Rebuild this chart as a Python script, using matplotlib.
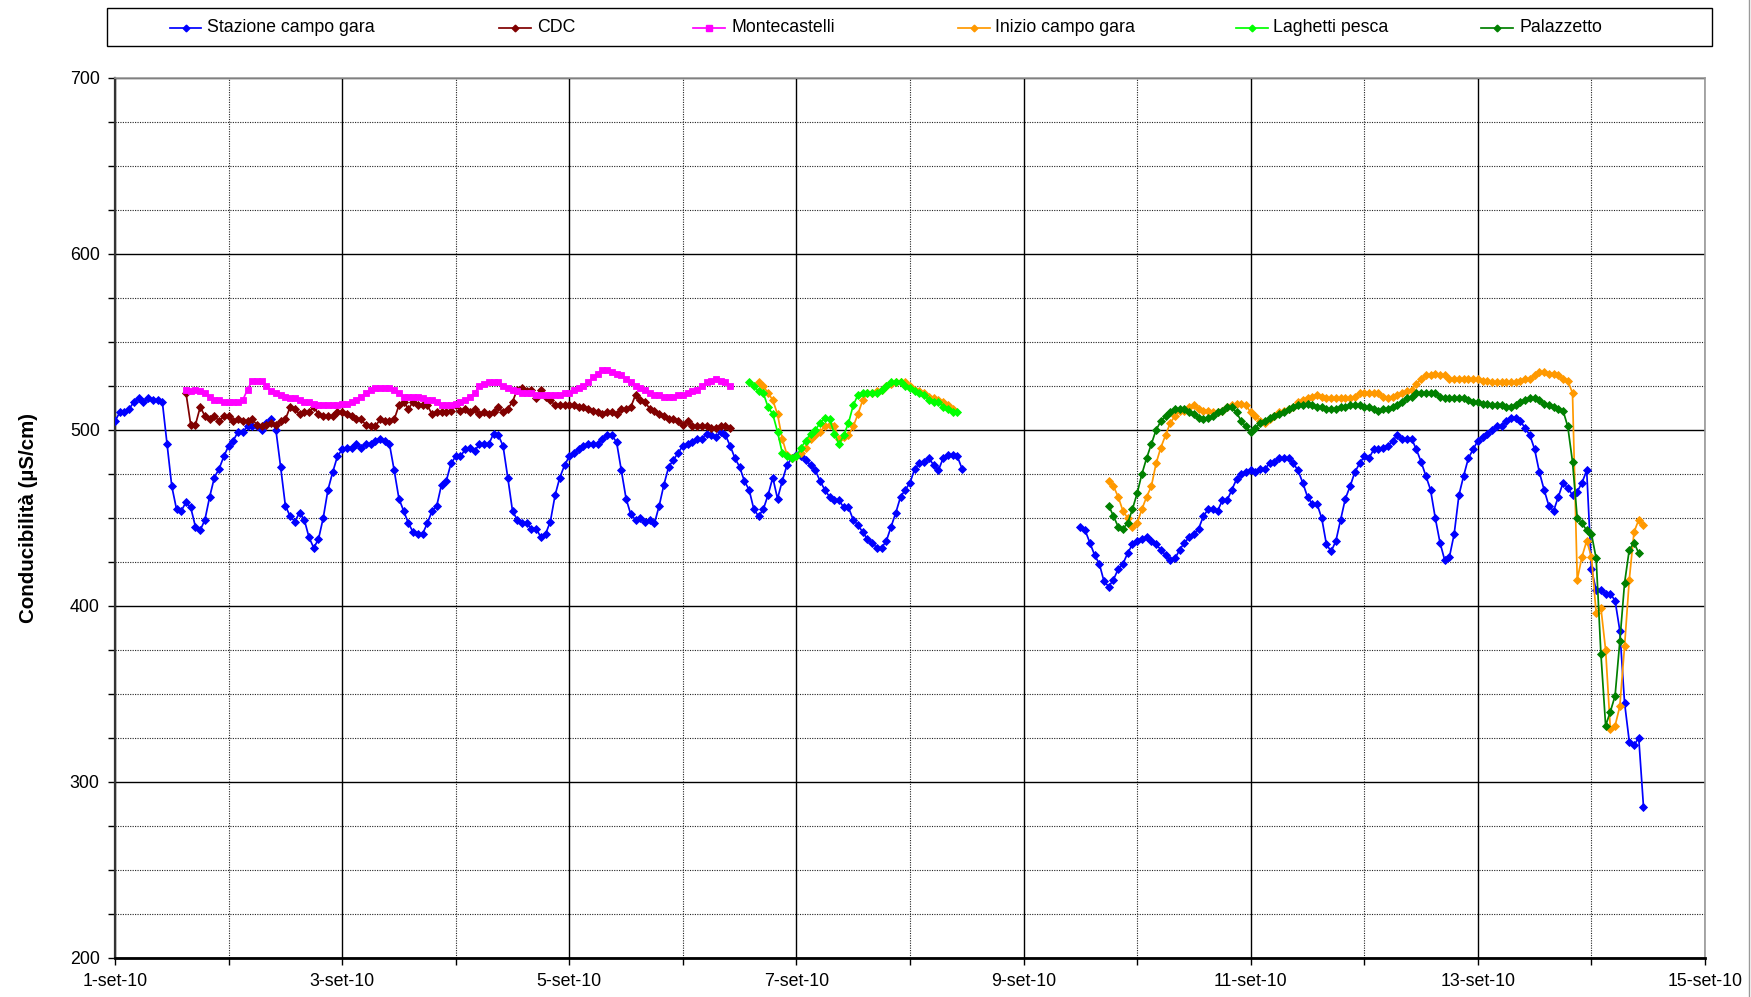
import numpy as np
import matplotlib
matplotlib.use('Agg')
import matplotlib.pyplot as plt
from matplotlib import font_manager
from matplotlib.lines import Line2D
from matplotlib.patches import Rectangle
from matplotlib.ticker import FixedLocator, MultipleLocator

# narrow face gives the tall, tight lettering of the original chart; plain Arial-like face otherwise
_installed = {f.name for f in font_manager.fontManager.ttflist}
if 'Liberation Sans Narrow' in _installed:
    plt.rcParams['font.family'] = ['Liberation Sans Narrow', 'Liberation Sans', 'DejaVu Sans']
    FS = 15.0
else:
    plt.rcParams['font.family'] = ['Liberation Sans', 'DejaVu Sans']
    FS = 12.8

# ------------------------------------------------------------------------------------------------------------------- #
# hourly conductivity readings (uS/cm); *_start = first hour counted from 1-set-10 00:00

stazione_1_start = 0
stazione_1 = [505, 510, 510, 512, 516, 518, 516, 518, 517, 517,
              516, 492, 468, 455, 454, 459, 456, 445, 443, 449,
              462, 473, 478, 485, 491, 494, 499, 499, 502, 502,
              502, 500, 504, 506, 500, 479, 457, 451, 448, 453,
              449, 439, 433, 438, 450, 466, 476, 485, 489, 490,
              490, 492, 490, 492, 492, 494, 495, 494, 492, 477,
              461, 454, 447, 442, 441, 441, 447, 454, 457, 469,
              471, 481, 485, 485, 489, 490, 488, 492, 492, 492,
              498, 497, 491, 473, 454, 449, 447, 447, 444, 444,
              439, 441, 448, 463, 473, 480, 485, 487, 489, 491,
              492, 492, 492, 495, 497, 497, 493, 477, 461, 452,
              449, 450, 448, 449, 447, 457, 469, 479, 483, 487,
              491, 492, 493, 495, 495, 498, 497, 496, 499, 497,
              491, 484, 479, 471, 466, 455, 451, 455, 463, 473,
              461, 471, 480, 484, 486, 485, 483, 480, 477, 471,
              466, 462, 460, 460, 456, 456, 449, 446, 442, 438,
              436, 433, 433, 437, 445, 453, 462, 466, 470, 478,
              481, 482, 484, 480, 477, 484, 486, 486, 485, 478]

stazione_2_start = 204
stazione_2 = [445, 443, 436, 429, 424, 414, 411, 415, 421, 424,
              430, 435, 437, 438, 439, 437, 435, 432, 429, 426,
              427, 432, 436, 439, 441, 444, 451, 455, 455, 454,
              460, 460, 466, 472, 475, 476, 477, 476, 478, 478,
              481, 482, 484, 484, 484, 481, 477, 470, 462, 458,
              458, 450, 435, 431, 437, 449, 461, 468, 476, 481,
              485, 484, 489, 489, 490, 491, 494, 497, 495, 495,
              495, 489, 482, 474, 466, 450, 436, 426, 428, 441,
              463, 474, 484, 489, 494, 496, 498, 500, 502, 502,
              505, 507, 507, 505, 501, 497, 489, 476, 466, 457,
              454, 462, 470, 467, 463, 465, 470, 477, 421, 409,
              409, 407, 407, 403, 386, 345, 323, 321, 325, 286]

cdc_start = 15
cdc = [521, 503, 503, 513, 508, 506, 508, 505, 508, 508,
       505, 506, 505, 505, 506, 503, 502, 503, 504, 503,
       505, 506, 513, 512, 509, 510, 510, 513, 509, 508,
       508, 508, 510, 510, 509, 508, 506, 506, 503, 502,
       502, 506, 505, 505, 506, 514, 516, 512, 516, 514,
       514, 514, 509, 510, 510, 510, 511, 514, 511, 512,
       510, 512, 509, 510, 509, 510, 513, 510, 512, 516,
       523, 524, 522, 523, 518, 523, 519, 517, 514, 514,
       514, 514, 514, 513, 513, 512, 511, 510, 509, 510,
       510, 509, 512, 512, 513, 520, 517, 516, 512, 511,
       509, 508, 506, 506, 505, 503, 505, 502, 502, 502,
       502, 501, 501, 502, 502, 501]

montecastelli_start = 15
montecastelli = [523, 522, 523, 522, 521, 519, 517, 517, 516, 516,
                 516, 516, 517, 523, 528, 528, 528, 525, 522, 521,
                 520, 519, 518, 518, 517, 516, 516, 515, 514, 514,
                 514, 514, 514, 515, 515, 516, 517, 519, 521, 523,
                 524, 524, 524, 524, 523, 521, 519, 519, 519, 519,
                 518, 517, 517, 516, 514, 514, 514, 515, 516, 517,
                 519, 521, 525, 526, 527, 527, 527, 525, 524, 523,
                 522, 521, 521, 521, 520, 520, 520, 520, 520, 520,
                 521, 521, 523, 524, 525, 527, 530, 532, 534, 534,
                 533, 532, 531, 529, 527, 525, 524, 523, 521, 520,
                 520, 519, 519, 519, 520, 520, 521, 522, 523, 525,
                 527, 528, 529, 528, 527, 525]

inizio_1_start = 136
inizio_1 = [527, 525, 521, 517, 509, 495, 486, 484, 485, 487,
            490, 495, 497, 499, 502, 503, 502, 495, 496, 497,
            502, 509, 517, 521, 521, 522, 523, 525, 526, 527,
            527, 527, 525, 523, 522, 521, 519, 518, 517, 516,
            514, 512]

inizio_2_start = 210
inizio_2 = [471, 468, 462, 454, 450, 445, 447, 455, 462, 468,
            481, 490, 497, 504, 508, 511, 511, 513, 514, 512,
            511, 511, 510, 510, 511, 513, 514, 515, 515, 514,
            510, 508, 505, 504, 506, 508, 510, 511, 512, 513,
            516, 517, 518, 519, 520, 519, 518, 518, 518, 518,
            518, 518, 519, 521, 521, 521, 521, 521, 519, 518,
            519, 520, 521, 522, 523, 526, 529, 531, 531, 532,
            531, 531, 529, 529, 529, 529, 529, 529, 529, 528,
            528, 527, 527, 527, 527, 527, 527, 528, 529, 529,
            531, 533, 533, 532, 532, 531, 529, 528, 521, 415,
            428, 437, 428, 396, 399, 375, 330, 332, 343, 377,
            415, 442, 449, 446]

laghetti_start = 134
laghetti = [527, 525, 522, 521, 513, 509, 499, 487, 485, 484,
            485, 490, 494, 498, 500, 504, 507, 506, 498, 492,
            497, 504, 514, 520, 521, 521, 521, 521, 523, 525,
            527, 527, 527, 525, 524, 522, 521, 520, 517, 516,
            516, 513, 512, 510, 510]

palazzetto_start = 210
palazzetto = [457, 451, 445, 444, 447, 455, 464, 475, 484, 492,
              500, 505, 508, 510, 512, 512, 512, 510, 509, 507,
              506, 507, 508, 510, 511, 513, 513, 510, 505, 502,
              499, 501, 504, 505, 507, 508, 509, 510, 512, 513,
              514, 514, 515, 514, 513, 513, 512, 512, 512, 513,
              513, 514, 514, 514, 513, 513, 512, 511, 512, 512,
              513, 514, 516, 518, 519, 521, 521, 521, 521, 521,
              519, 518, 518, 518, 518, 518, 517, 516, 516, 515,
              515, 514, 514, 514, 513, 513, 514, 516, 517, 518,
              518, 517, 515, 514, 513, 512, 511, 502, 482, 450,
              447, 443, 441, 427, 373, 332, 340, 349, 380, 413,
              432, 436, 430]

day_ticks = [1, 3, 5, 7, 9, 11, 13, 15]
day_labels = ['1-set-10', '3-set-10', '5-set-10', '7-set-10', '9-set-10', '11-set-10', '13-set-10', '15-set-10']

# ------------------------------------------------------------------------------------------------------------------- #


def to_days(start, values):
    return 1 + (start + np.arange(len(values))) / 24.0


series = [
    ('Stazione campo gara', '#0000FF', 'D', 4.0, [(stazione_1_start, stazione_1), (stazione_2_start, stazione_2)]),
    ('CDC', '#800000', 'D', 4.0, [(cdc_start, cdc)]),
    ('Montecastelli', '#FF00FF', 's', 4.8, [(montecastelli_start, montecastelli)]),
    ('Inizio campo gara', '#FF9900', 'D', 4.0, [(inizio_1_start, inizio_1), (inizio_2_start, inizio_2)]),
    ('Laghetti pesca', '#00FF00', 'D', 4.0, [(laghetti_start, laghetti)]),
    ('Palazzetto', '#008000', 'D', 4.0, [(palazzetto_start, palazzetto)]),
]

fig = plt.figure(figsize=(17.51, 9.97), dpi=100)
ax = fig.add_axes([0.06568, 0.03912, 0.90805, 0.88265])

for k, (name, col, mk, ms, parts) in enumerate(series):
    for start, vals in parts:
        ax.plot(to_days(start, vals), vals, color=col, marker=mk, markersize=ms, markeredgewidth=0.6,
                linewidth=1.25, zorder=3 + k)

ax.set_xlim(1, 15)
ax.set_ylim(200, 700)
ax.xaxis.set_major_locator(FixedLocator(day_ticks))
ax.xaxis.set_minor_locator(MultipleLocator(1))
ax.set_xticklabels(day_labels)
ax.yaxis.set_major_locator(MultipleLocator(100))
ax.yaxis.set_minor_locator(MultipleLocator(25))

ax.grid(which='major', color='black', linestyle='-', linewidth=1.0)
ax.grid(which='minor', color='#222222', linestyle=(0, (1, 1.2)), linewidth=0.8)

ax.tick_params(which='both', direction='out', length=5, width=1.0, labelsize=FS, pad=6)
for side in ['top', 'right']:
    ax.spines[side].set_color('#9a9a9a')
    ax.spines[side].set_linewidth(1.2)
ax.spines['left'].set_color('#333333')
ax.spines['left'].set_linewidth(1.6)
ax.spines['bottom'].set_color('black')
ax.spines['bottom'].set_linewidth(2.0)

fig.text(28 / 1751, 1 - 518 / 997, 'Conducibilità (µS/cm)', rotation=90, ha='center', va='center',
         fontsize=FS + 2.0, fontweight='bold')

# legend box across the top
W, H = 1751.0, 997.0
fig.add_artist(Rectangle((107 / W, 1 - 46 / H), (1712 - 107) / W, 38 / H, transform=fig.transFigure,
                         facecolor='white', edgecolor='black', linewidth=1.0))
legend_x = [(170, 201, 207), (499, 531, 537), (693, 725, 731), (958, 990, 995), (1236, 1268, 1273), (1481, 1513, 1519)]
ly = 1 - 28 / H
for (name, col, mk, ms, parts), (x0, x1, tx) in zip(series, legend_x):
    fig.add_artist(Line2D([x0 / W, x1 / W], [ly, ly], color=col, linewidth=1.25, transform=fig.transFigure))
    fig.add_artist(Line2D([(x0 + x1) / 2 / W], [ly], color=col, marker=mk, markersize=ms - 0.6,
                          transform=fig.transFigure))
    fig.text(tx / W, ly, name, ha='left', va='center', fontsize=FS)

fig.add_artist(Line2D([1748.5 / W, 1748.5 / W], [0, 1], color='#9a9a9a', linewidth=1.0, transform=fig.transFigure))

plt.savefig('out.png', dpi=100)
